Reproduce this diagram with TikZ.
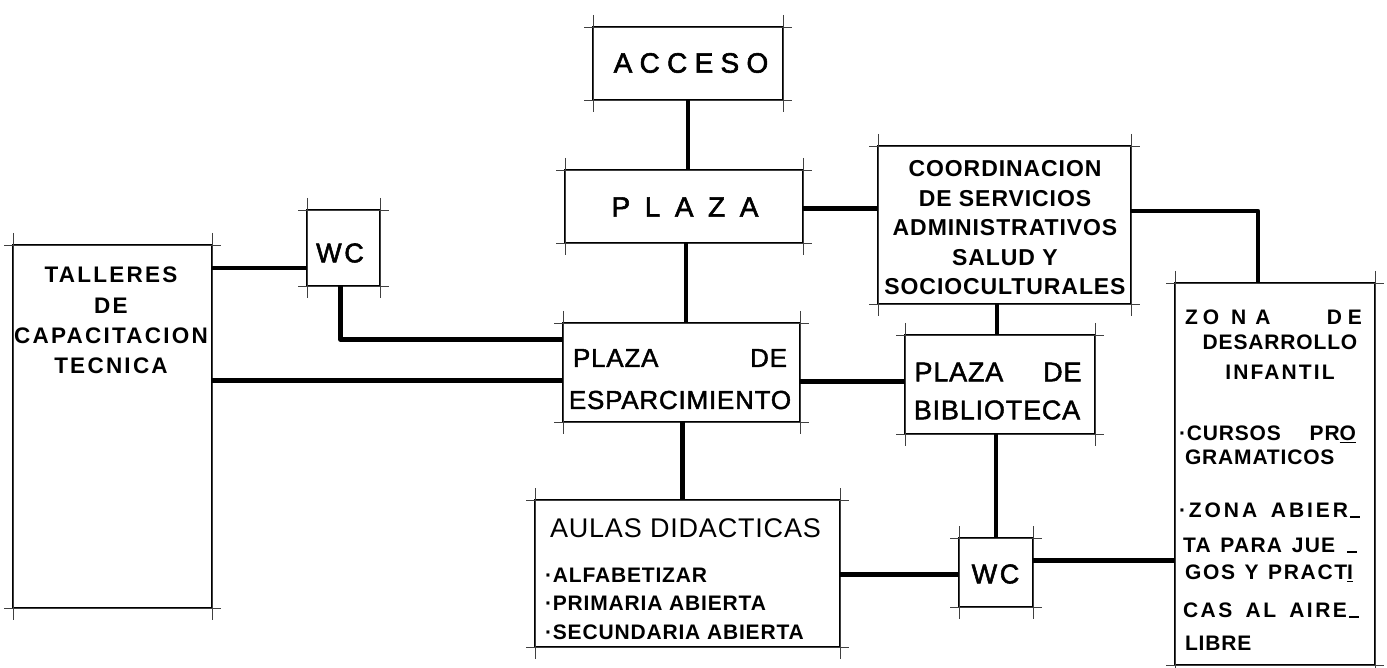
\documentclass[tikz,border=0pt]{standalone}
\usepackage{fontspec}
\setmainfont{Liberation Sans}
\newfontfamily\fAcc[LetterSpace=26,FakeBold=2]{Liberation Sans}
\newfontfamily\fPla[LetterSpace=52,FakeBold=2]{Liberation Sans}
\newfontfamily\fWc[LetterSpace=10,FakeBold=2]{Liberation Sans}
\newfontfamily\fRg[LetterSpace=3,FakeBold=1.6]{Liberation Sans}
\newfontfamily\fTh[LetterSpace=3]{Liberation Sans}
\newfontfamily\fBd[LetterSpace=4]{Liberation Sans}
\newfontfamily\fTal[LetterSpace=10]{Liberation Sans}
\newcommand\hy{\kern2pt\rule{10pt}{2pt}}
\newcommand\ulx[1]{\underline{#1}}
\tikzset{
  bxs/.style={draw, line width=2pt, inner sep=0pt, outer sep=0pt},
  ext/.style={line width=0.5pt, black!75},
  conn/.style={line width=4.2pt, line join=round},
  lbl/.style={inner sep=0pt, outer sep=0pt, align=center},
  fbd/.style={font=\fBd\bfseries\fontsize{21}{24}\selectfont},
  zl/.style={lbl, anchor=base west, fbd},
}
\newcommand\bxx[5]{%
  \node[bxs, minimum width={#4-#2}, minimum height={#5-#3}] (#1) at ({(#2+#4)/2},{(#3+#5)/2}) {};
  \draw[ext] ([xshift=-9pt]#1.north west) -- ([xshift=9pt]#1.north east);
  \draw[ext] ([xshift=-9pt]#1.south west) -- ([xshift=9pt]#1.south east);
  \draw[ext] ([yshift=12pt]#1.north west) -- ([yshift=-12pt]#1.south west);
  \draw[ext] ([yshift=12pt]#1.north east) -- ([yshift=-12pt]#1.south east);
}
\begin{document}
\begin{tikzpicture}[x=1pt,y=-1pt]
\useasboundingbox (0,0) rectangle (1387,668);
% boxes
\bxx{tal}{13}{245}{212}{608}
\bxx{wca}{307}{210}{380}{286}
\bxx{acc}{593}{27}{783}{100}
\bxx{plz}{565}{170}{803}{243}
\bxx{coo}{878}{146}{1131}{304}
\bxx{esp}{563}{323}{800}{422}
\bxx{bib}{905}{335}{1095}{434}
\bxx{aul}{535}{500}{840}{647}
\bxx{wcb}{959}{538}{1033}{607}
\bxx{zon}{1175}{283}{1375}{665}
% connectors
\draw[conn] (acc.south) -- (acc.south |- plz.north);
\draw[conn] ([xshift=2pt]plz.south) -- ([xshift=2pt]plz.south |- esp.north);
\draw[conn] ([yshift=-2pt]plz.east) -- ([yshift=-2pt]plz.east -| coo.west);
\draw[conn] ([yshift=14pt]coo.east) -| ([xshift=-17pt]zon.north);
\draw[conn] ([xshift=-3pt]bib.north) -- ([xshift=-3pt]bib.north |- coo.south);
\draw[conn] ([yshift=-20pt]wca.west) -- ([yshift=-20pt]wca.west -| tal.east);
\draw[conn] ([xshift=-3pt]wca.south) |- ([yshift=33pt]esp.west);
\draw[conn] ([yshift=-8pt]esp.west) -- ([yshift=-8pt]esp.west -| tal.east);
\draw[conn] ([yshift=-9pt]esp.east) -- ([yshift=-9pt]esp.east -| bib.west);
\draw[conn] ([xshift=1pt]esp.south) -- ([xshift=1pt]esp.south |- aul.north);
\draw[conn] (wcb.north) -- (wcb.north |- bib.south);
\draw[conn] ([yshift=-1pt]aul.east) -- ([yshift=-1pt]aul.east -| wcb.west);
\draw[conn] ([yshift=12pt]wcb.east) -- ([yshift=12pt]wcb.east -| zon.west);
% texts
\node[lbl, font=\fAcc\fontsize{28}{30}\selectfont] (tacc) at (691,63) {ACCESO};
\node[lbl, font=\fPla\fontsize{28}{30}\selectfont] (tplz) at (685,207) {PLAZA};
\node[lbl, font=\fWc\fontsize{27}{30}\selectfont] (twca) at (340,253) {WC};
\node[lbl, font=\fWc\fontsize{27}{30}\selectfont] (twcb) at (995.5,574) {WC};
\node[lbl, font=\fTal\bfseries\fontsize{22.5}{30.3}\selectfont] (ttal) at (111,320.5) {TALLERES\\DE\\CAPACITACION\\TECNICA};
\node[lbl, font=\fBd\bfseries\fontsize{23}{29.5}\selectfont] (tcoo) at (1005,228) {COORDINACION\\DE SERVICIOS\\ADMINISTRATIVOS\\SALUD Y\\SOCIOCULTURALES};
\node[lbl, font=\fRg\fontsize{26}{30}\selectfont] (tesa) at (680,358) {\makebox[214pt][s]{PLAZA DE}};
\node[lbl, font=\fRg\fontsize{26}{30}\selectfont] (tesb) at (680,400) {ESPARCIMIENTO};
\node[lbl, font=\fRg\fontsize{27}{30}\selectfont] (tbia) at (998,372) {\makebox[167pt][s]{PLAZA DE}};
\node[lbl, font=\fRg\fontsize{27}{30}\selectfont] (tbib) at (997,410) {BIBLIOTECA};
\node[lbl, anchor=west, font=\fTh\fontsize{27}{30}\selectfont] (taua) at (550,528) {AULAS DIDACTICAS};
\node[lbl, anchor=west, fbd] (taub) at (545,575) {·ALFABETIZAR};
\node[lbl, anchor=west, fbd] (tauc) at (545,603) {·PRIMARIA ABIERTA};
\node[lbl, anchor=west, fbd] (taud) at (545,632) {·SECUNDARIA ABIERTA};
\node[zl] (tza) at (1185,324.5) {\makebox[177pt][l]{Z\kern5pt O\kern12pt N\kern9pt A\hfill D\kern6pt E}};
\node[lbl, fbd] (tzb) at (1280,342) {DESARROLLO};
\node[lbl, font=\fTal\bfseries\fontsize{21}{24}\selectfont] (tzc) at (1280,372) {INFANTIL};
\node[zl] (tzd) at (1179,440.5) {\makebox[177pt][s]{·CURSOS PR\ulx{O}}};
\node[zl] (tze) at (1185,464.5) {GRAMATICOS};
\node[zl] (tzf) at (1179,517.5) {\addfontfeature{LetterSpace=14}\makebox[181pt][s]{·ZONA ABIER\hy}};
\node[zl] (tzg) at (1183,552.5) {\addfontfeature{LetterSpace=6}\makebox[174pt][s]{TA PARA JUE \hy}};
\node[zl] (tzh) at (1185,579.5) {\addfontfeature{LetterSpace=8}\makebox[168pt][s]{GOS Y PRACT\ulx{I}}};
\node[zl] (tzi) at (1183,617.5) {\addfontfeature{LetterSpace=12}\makebox[176pt][s]{CAS AL AIRE\hy}};
\node[zl] (tzj) at (1185,650.5) {LIBRE};
\end{tikzpicture}
\end{document}
